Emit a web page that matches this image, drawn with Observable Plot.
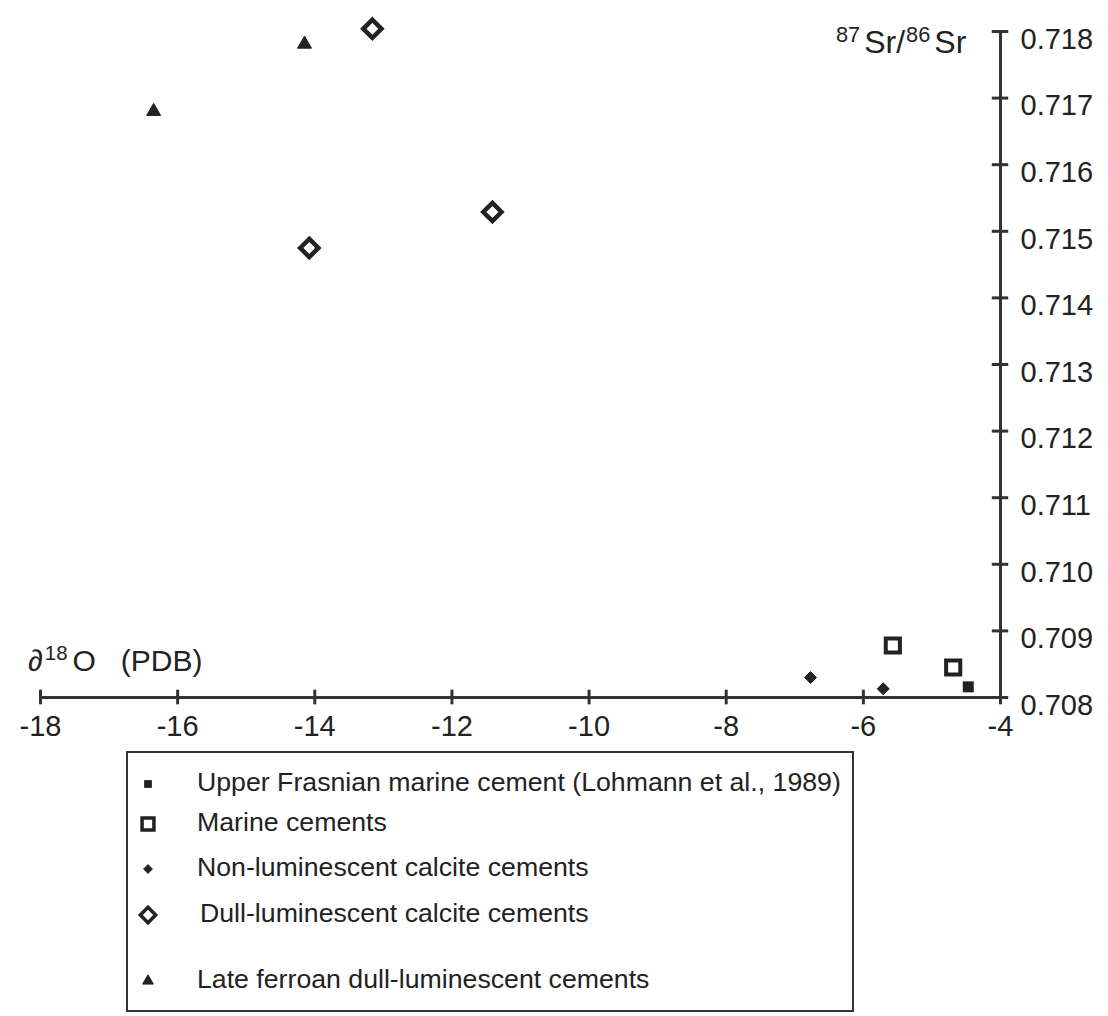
<!DOCTYPE html>
<html>
<head>
<meta charset="utf-8">
<script src="https://cdn.jsdelivr.net/npm/d3@7"></script>
<script src="https://cdn.jsdelivr.net/npm/@observablehq/plot@0.6"></script>
<style>
  body { margin: 0; background: #fff; font-family: "Liberation Sans", Arial, sans-serif; color: #222; }
  #wrap { position: relative; width: 1108px; height: 1016px; overflow: hidden; }
  #chart { position: absolute; left: 0; top: 0; }
  .lbl { position: absolute; white-space: nowrap; line-height: 1; color: #222; }
  .lbl sup { font-size: 0.68em; vertical-align: 0; position: relative; top: -0.52em; }
  #legend { position: absolute; left: 126px; top: 751px; width: 728px; height: 261px; border: 2px solid #333; box-sizing: border-box; }
  .row { position: absolute; left: 0; height: 40px; width: 100%; }
  .row svg { position: absolute; left: 8px; top: 8px; }
  .row span { position: absolute; left: 69px; top: 5px; font-size: 26.7px; line-height: 1; white-space: nowrap; color: #222; }
</style>
</head>
<body>
<div id="wrap">
  <div id="chart"></div>
  <div class="lbl" id="xtitle" style="left:28px; top:646px; font-size:30px;">&#8706;<sup style="margin-left:2px;margin-right:5px">18</sup>O&nbsp;&nbsp;&nbsp;(PDB)</div>
  <div class="lbl" id="ytitle" style="left:836px; top:26px; font-size:32px;"><sup style="margin-right:4px">87</sup>Sr/<sup style="margin-left:1px;margin-right:4px">86</sup>Sr</div>
  <div id="legend"></div>
</div>
<script>
// ---- data ----
const seriesNames = [
  "Upper Frasnian marine cement (Lohmann et al., 1989)",
  "Marine cements",
  "Non-luminescent calcite cements",
  "Dull-luminescent calcite cements",
  "Late ferroan dull-luminescent cements"
];
const upperFrasnianO = [-4.47];
const upperFrasnianSr = [0.70816];
const marineO = [-5.57, -4.69];
const marineSr = [0.70878, 0.70845];
const nonLumO = [-6.77, -5.71];
const nonLumSr = [0.70830, 0.70813];
const dullLumO = [-13.16, -14.08, -11.41];
const dullLumSr = [0.71804, 0.71475, 0.71529];
const lateFerroanO = [-16.35, -14.15];
const lateFerroanSr = [0.71680, 0.71781];

const xTicks = [-18, -16, -14, -12, -10, -8, -6, -4];
const yTicks = [0.708, 0.709, 0.710, 0.711, 0.712, 0.713, 0.714, 0.715, 0.716, 0.717, 0.718];

// ---- build table ----
const groups = [
  [upperFrasnianO, upperFrasnianSr],
  [marineO, marineSr],
  [nonLumO, nonLumSr],
  [dullLumO, dullLumSr],
  [lateFerroanO, lateFerroanSr]
];
const points = groups.flatMap(([xs, ys], i) => xs.map((x, j) => ({series: seriesNames[i], o: x, sr: ys[j]})));
const bySeries = name => points.filter(d => d.series === name);

const ink = "#222";
const axisInk = "#333";
const xMin = xTicks[0], xMax = xTicks[xTicks.length - 1];
const yMin = yTicks[0], yMax = yTicks[yTicks.length - 1];
const font = "Liberation Sans, Arial, sans-serif";

const plot = Plot.plot({
  width: 1108,
  height: 762,
  marginLeft: 40,
  marginRight: 108,
  marginTop: 31,
  marginBottom: 65,
  x: {domain: [xMin, xMax], axis: null},
  y: {domain: [yMin, yMax], axis: null},
  style: {fontFamily: font, background: "transparent"},
  marks: [
    // axis lines
    Plot.ruleY([yMin], {x1: xMin, x2: xMax, stroke: axisInk, strokeWidth: 3}),
    Plot.ruleX([xMax], {y1: yMin, y2: yMax, stroke: axisInk, strokeWidth: 3}),
    // tick marks crossing the axes
    Plot.ruleX(xTicks, {x: d => d, y1: yMin - 0.00011, y2: yMin + 0.00011, stroke: axisInk, strokeWidth: 3}),
    Plot.ruleY(yTicks, {y: d => d, x1: xMax - 0.12, x2: xMax + 0.12, stroke: axisInk, strokeWidth: 3}),
    // tick labels
    Plot.text(xTicks, {x: d => d, y: yMin, dy: 29, text: d => String(d), fontSize: 29, fill: ink}),
    Plot.text(yTicks, {x: xMax, y: d => d, dx: 20, dy: 8, text: d => d.toFixed(3), textAnchor: "start", fontSize: 29, fill: ink}),
    // data
    Plot.dot(bySeries(seriesNames[0]), {x: "o", y: "sr", symbol: "square", r: 6.2, fill: ink}),
    Plot.dot(bySeries(seriesNames[1]), {x: "o", y: "sr", symbol: "square2", r: 9, stroke: ink, strokeWidth: 4, fill: "none"}),
    Plot.dot(bySeries(seriesNames[2]), {x: "o", y: "sr", symbol: "diamond2", r: 5.4, fill: ink, stroke: ink, strokeWidth: 1}),
    Plot.dot(bySeries(seriesNames[3]), {x: "o", y: "sr", symbol: "diamond2", r: 8.2, stroke: ink, strokeWidth: 4.5, fill: "none"}),
    Plot.dot(bySeries(seriesNames[4]), {x: "o", y: "sr", symbol: "triangle", r: 5.2, fill: ink, stroke: ink, strokeWidth: 1})
  ]
});
document.getElementById("chart").appendChild(plot);

// ---- legend ----
const legendRowsTop = [11, 51, 96, 142, 208];
const legendSymbols = [
  {type: d3.symbolSquare, size: 60, fill: ink, stroke: "none", sw: 0},
  {type: d3.symbolSquare2, size: 180, fill: "none", stroke: ink, sw: 3.5},
  {type: d3.symbolDiamond2, size: 50, fill: ink, stroke: ink, sw: 1},
  {type: d3.symbolDiamond2, size: 150, fill: "none", stroke: ink, sw: 3.5},
  {type: d3.symbolTriangle, size: 50, fill: ink, stroke: ink, sw: 1}
];
const legend = d3.select("#legend");
seriesNames.forEach((name, i) => {
  const row = legend.append("div").attr("class", "row").style("top", legendRowsTop[i] + "px");
  const s = legendSymbols[i];
  const svg = row.append("svg").attr("width", 24).attr("height", 24);
  svg.append("path")
    .attr("transform", "translate(12,12)")
    .attr("d", d3.symbol(s.type, s.size)())
    .attr("fill", s.fill)
    .attr("stroke", s.stroke)
    .attr("stroke-width", s.sw);
  row.append("span").text(name).style("left", (i === 3 ? 72 : 69) + "px");
});
</script>
</body>
</html>
